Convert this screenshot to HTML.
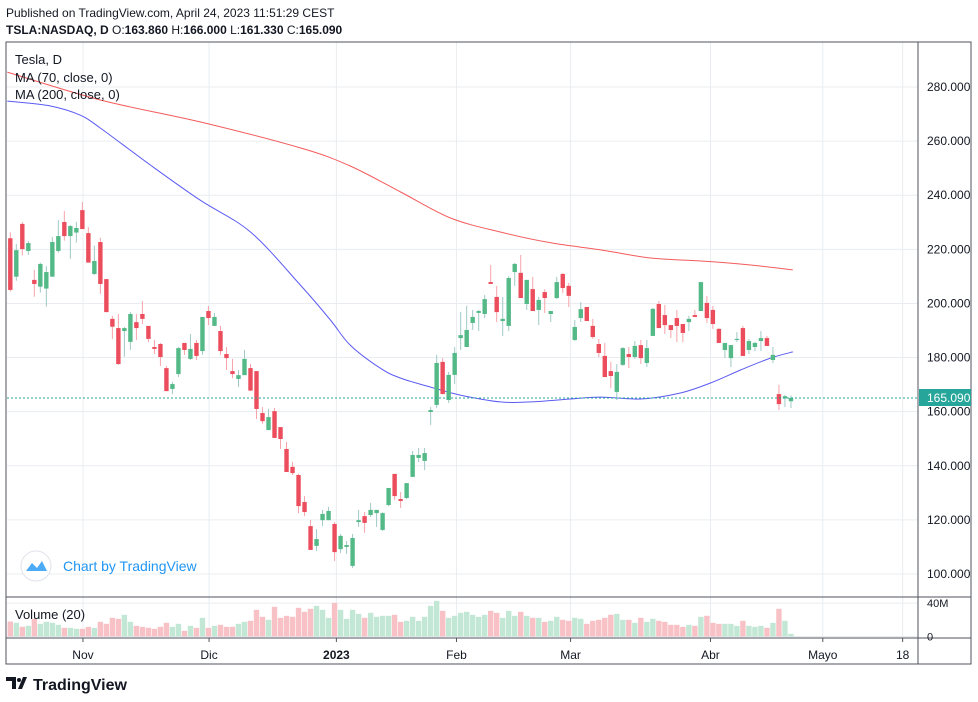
<!DOCTYPE html>
<html><head><meta charset="utf-8"><style>
body{margin:0;background:#fff;font-family:"Liberation Sans",sans-serif}
svg{display:block}
</style></head><body>
<svg id="s" width="978" height="702" xmlns="http://www.w3.org/2000/svg">
<text x="6" y="17" font-size="12" fill="#131722">Published on TradingView.com, April 24, 2023 11:51:29 CEST</text>
<text x="6" y="34" font-size="12" font-weight="bold" fill="#131722">TSLA:NASDAQ, D <tspan font-weight="normal">O:</tspan>163.860 <tspan font-weight="normal">H:</tspan>166.000 <tspan font-weight="normal">L:</tspan>161.330 <tspan font-weight="normal">C:</tspan>165.090</text>
<g id="grid"></g>
<g id="vol"></g>
<g id="ma"></g>
<g id="candles"></g>
<line x1="7" y1="398" x2="918" y2="398" stroke="#26a69a" stroke-width="1" stroke-dasharray="2,2"/>
<rect x="6" y="42" width="965" height="622" fill="none" stroke="#50535e"/>
<line x1="918" y1="42" x2="918" y2="664" stroke="#50535e"/>
<line x1="6" y1="597" x2="971" y2="597" stroke="#50535e"/>
<line x1="6" y1="638" x2="971" y2="638" stroke="#50535e"/>
<g id="axes"></g>
<rect x="919" y="389" width="52" height="17" fill="#26a69a"/>
<text x="927" y="402" font-size="12" fill="#fff">165.090</text>
<text x="15" y="64" font-size="13" fill="#131722">Tesla, D</text>
<text x="15" y="82" font-size="13" fill="#131722">MA (70, close, 0)</text>
<text x="15" y="99" font-size="13" fill="#131722">MA (200, close, 0)</text>
<text x="15" y="619" font-size="13" fill="#131722">Volume (20)</text>
<g>
<circle cx="36" cy="566" r="15" fill="#fff" stroke="#e0e3eb"/>
<path d="M26 571 L32 563 L37 568 L42 561 L47 571 Z" fill="#2196f3" opacity="0.8"/>
<text x="63" y="571" font-size="14" fill="#2196f3">Chart by TradingView</text>
</g>
<g>
<path d="M6 677 h10 v12 h-4 v-8 h-6 Z M18 689 l5 -12 h4 l-5 12 Z" fill="#131722"/>
<circle cx="19" cy="680" r="2" fill="#131722"/>
<text x="33" y="690" font-size="16" font-weight="bold" fill="#131722">TradingView</text>
</g>
</svg>
<script>
const openV=[224.1,209.9,229.4,219.4,208.7,206.2,205.5,209.9,219.4,230.1,224.9,226.2,234.5,226.0,210.9,222.7,209.0,194.3,190.9,189.8,185.8,193.1,196.1,191.7,183.9,185.0,176.1,168.4,173.9,185.4,179.5,185.4,182.4,197.2,191.7,189.8,181.3,175.0,172.1,173.5,176.1,175.0,159.5,153.2,160.2,154.3,146.2,139.6,136.6,126.6,117.7,110.4,119.9,119.9,118.5,109.2,110.0,103.0,119.2,121.4,121.8,122.5,116.3,125.5,137.0,127.7,128.1,135.9,142.9,141.8,159.9,162.5,178.4,164.3,173.6,187.2,183.9,192.8,196.5,196.1,207.9,202.4,193.5,191.7,211.6,211.3,199.8,205.3,197.6,204.2,196.1,202.0,210.9,206.5,186.5,194.6,198.7,191.7,185.0,180.6,175.0,167.3,177.3,181.3,180.2,184.6,178.0,188.0,199.8,195.7,192.0,194.6,192.4,193.1,195.7,197.2,200.2,197.6,190.6,182.8,179.8,186.5,190.9,182.8,183.9,186.1,187.2,179.1,166.5,164.9,163.86];
const highV=[226.3,222.0,230.1,223.1,212.4,215.1,213.8,224.6,230.8,234.2,229.0,230.1,237.5,228.2,221.4,224.3,209.0,195.4,196.1,191.3,196.8,196.1,200.9,191.7,186.5,185.4,176.9,171.0,183.9,185.4,188.7,186.5,195.0,199.1,196.5,191.7,183.9,179.5,175.4,182.8,177.6,175.0,161.7,161.0,161.4,154.3,148.8,141.4,137.0,128.8,120.0,116.6,123.7,124.8,119.2,114.8,112.2,114.8,123.7,122.9,126.3,123.7,122.9,131.8,137.0,130.3,133.6,145.5,146.6,146.6,161.7,181.0,179.8,174.7,183.9,196.9,199.1,197.6,197.6,203.1,214.2,206.5,202.4,210.1,215.0,217.9,208.7,209.8,202.4,205.3,197.2,209.8,211.3,207.6,193.9,200.5,198.7,194.3,186.9,185.4,178.4,177.6,183.9,183.9,186.1,186.5,186.5,198.3,200.9,199.4,192.0,197.6,192.4,195.4,197.6,207.9,202.8,199.1,190.9,185.4,184.6,189.4,191.7,186.9,185.8,189.8,188.0,183.9,169.9,166.2,166.0];
const lowV=[204.4,208.4,217.7,217.9,202.5,204.0,198.8,209.9,218.8,223.2,216.5,222.5,227.5,215.1,210.5,203.5,196.8,186.9,177.3,180.3,182.8,186.5,192.4,185.7,181.3,176.9,167.6,166.5,172.8,181.0,179.1,179.1,181.0,192.0,191.7,181.0,175.4,172.4,169.1,173.5,167.6,157.3,155.6,153.2,150.3,146.2,137.7,136.6,122.5,121.4,108.9,108.5,117.7,119.9,104.8,107.8,107.4,102.2,117.4,115.2,121.1,117.4,115.9,125.1,127.4,124.4,127.7,135.9,141.4,138.4,155.1,161.4,166.5,163.2,170.2,182.8,183.9,190.2,189.8,194.6,207.2,193.1,188.0,189.8,206.5,202.0,197.6,197.2,192.0,196.5,193.1,201.6,203.9,198.7,186.1,193.1,193.5,186.9,180.2,172.8,168.7,164.3,176.9,176.1,179.5,177.6,176.5,188.0,190.9,188.7,187.2,185.7,185.7,189.8,195.0,197.2,192.8,190.6,185.4,179.8,176.5,185.8,180.6,181.3,182.4,182.4,184.3,178.0,160.6,161.7,161.33];
const closeV=[205.0,219.7,220.1,222.3,207.2,214.6,211.6,222.7,224.9,224.9,228.6,227.9,227.5,215.1,215.7,207.2,196.8,191.4,177.6,190.9,196.1,190.9,194.3,186.9,183.2,180.2,167.6,170.2,183.5,182.8,183.2,180.6,195.0,194.6,195.0,182.4,179.8,173.9,173.5,179.5,167.8,161.0,156.5,158.0,150.3,149.9,137.7,137.3,125.1,122.9,108.9,112.9,122.2,123.3,108.1,114.1,110.7,113.3,119.9,118.9,123.7,123.7,122.5,131.8,128.8,127.0,133.6,144.0,144.0,144.7,160.6,178.0,166.5,173.6,181.7,188.3,190.2,195.0,197.2,201.6,207.2,196.8,194.3,209.4,214.6,202.0,208.7,197.2,201.3,202.0,197.2,207.9,205.7,202.8,191.3,197.9,193.5,187.6,181.7,172.8,173.2,174.7,183.5,180.2,184.3,179.8,183.5,198.0,190.9,192.0,190.2,191.7,189.1,194.3,195.0,207.9,194.6,192.4,185.4,185.4,184.6,186.9,180.6,186.1,185.4,187.2,184.3,181.0,162.8,165.7,165.09];
const volumeM=[18,16.4,11.6,12.8,21.2,15.2,17.6,16.4,14,10.4,10.4,9.2,9.2,11.6,10.4,17.6,15.2,22.4,21.2,26,17.6,12.8,11.6,10.4,9.2,11.6,16.4,11.6,15.2,6.8,12.8,10.4,22.4,10.4,12.8,14,11.6,11.6,15.2,17.6,18.8,32,23.6,20,35.6,22.4,24.8,23.6,34.4,29.6,33.2,36.8,32,22.4,40.4,32,21.2,32,27.2,22.4,28.4,23.6,24.8,24.8,26,17.6,18.8,23.6,18.8,23.6,36.8,42.8,30.8,22.4,24.8,28.4,29.6,26,23.6,26,30.8,28.4,22.4,30.8,24.8,29.6,24.8,22.4,22.4,17.6,18.8,23.6,20,18.8,22.4,21.2,15.2,18.8,20,22.4,26,27.2,20,20,16.4,22.4,17.6,21.2,18.8,17.6,14,14,11.6,14,12.8,23.6,24.8,16.4,15.2,15.2,15.2,12.8,18.8,12.8,11.6,12.8,10.4,16.4,33.2,18.8,3.2];
const ma70Idx=[-0.5,15,31.6,48.3,56.6,65,73.3,81.6,90,98.3,106.6,115,123.3,130.3];
const ma70Val=[285.5,275.2,267.1,257.5,250.8,241.2,231.6,226.4,222.4,219.8,216.8,215.7,214.2,212.4];
const ma200Idx=[-0.5,6.6,11.6,15,23.3,31.6,40,48.3,53.3,56.6,61.6,65,70,75,81.6,86.6,93.3,98.3,105,111.6,116.6,121.6,126.6,130.3];
const ma200Val=[274.8,273.0,269.6,264.8,251.2,238.2,226.4,206.8,193.9,184.6,176.1,172.4,169.1,166.1,163.6,163.6,164.7,165.4,164.7,166.9,170.6,175.4,179.8,182.1];
const priceTicks=[100,120,140,160,180,200,220,240,260,280];
const timeLabels=["Nov","Dic","2023","Feb","Mar","Abr","Mayo","18"];
const timeIdx=[12.1,33.1,54.3,74.3,93.3,116.6,135.3,148.6];
const volTicks=[0,40];
const volTickLabels=["0","40M"];

const NS="http://www.w3.org/2000/svg";
const xS=i=>10.3+i*6.005;
const yS=p=>87+(280-p)*2.7056;
const vS=v=>636.5-v*0.8333;
function mk(tag,attrs,parent){const e=document.createElementNS(NS,tag);for(const k in attrs)e.setAttribute(k,attrs[k]);document.getElementById(parent).appendChild(e);return e;}

priceTicks.forEach((p,k)=>{
  const g=mk('line',{x1:7,x2:918,y1:yS(p),y2:yS(p),stroke:'#e9edf1'},'grid');
  
  
  const t=mk('text',{x:927,y:yS(p)+4,'font-size':12,fill:'#131722'},'axes');
  t.textContent=p.toFixed(3);
  
  
});
timeLabels.forEach((lab,k)=>{
  const x=xS(timeIdx[k]);
  const g=mk('line',{x1:x,x2:x,y1:42,y2:638,stroke:'#e9edf1'},'grid');
  
  
  const tk=mk('line',{x1:x,x2:x,y1:638,y2:642,stroke:'#50535e'},'axes');
  
  
  const t=mk('text',{x:x,y:659,'font-size':12,fill:'#131722','text-anchor':'middle','font-weight':lab==='2023'?'bold':'normal'},'axes');
  t.textContent=lab;
  
  
});
volTicks.forEach((v,k)=>{
  const g=mk('line',{x1:7,x2:918,y1:vS(v),y2:vS(v),stroke:'#e9edf1'},'grid');
  
  
  const t=mk('text',{x:927,y:vS(v)+4,'font-size':11,fill:'#131722'},'axes');
  t.textContent=volTickLabels[k];
  
  
});
volumeM.forEach((v,i)=>{
  const up=closeV[i]>=openV[i];
  const r=mk('rect',{x:xS(i)-2.7,y:vS(v),width:5.4,height:vS(0)-vS(v),fill:up?'#c3e7d5':'#f8c1c5'},'vol');
  
  
});
function maPath(idx,val,color,name){
  const P=idx.map((ix,k)=>[xS(ix),yS(val[k])]);
  let d='M'+P[0][0].toFixed(1)+' '+P[0][1].toFixed(1);
  for(let k=0;k<P.length-1;k++){
    const p0=P[Math.max(0,k-1)],p1=P[k],p2=P[k+1],p3=P[Math.min(P.length-1,k+2)];
    const c1=[p1[0]+(p2[0]-p0[0])/6,p1[1]+(p2[1]-p0[1])/6];
    const c2=[p2[0]-(p3[0]-p1[0])/6,p2[1]-(p3[1]-p1[1])/6];
    d+=' C'+c1[0].toFixed(1)+' '+c1[1].toFixed(1)+' '+c2[0].toFixed(1)+' '+c2[1].toFixed(1)+' '+p2[0].toFixed(1)+' '+p2[1].toFixed(1);
  }
  const p=mk('path',{d:d,fill:'none',stroke:color,'stroke-width':1,'stroke-linejoin':'round'},'ma');
  
  
}
maPath(ma70Idx,ma70Val,'#f45b5b','ma-red-line');
maPath(ma200Idx,ma200Val,'#5b5bf4','ma-blue-line');
openV.forEach((o,i)=>{
  const c=closeV[i],up=c>=o,x=xS(i);
  const w=mk('line',{x1:x,x2:x,y1:yS(highV[i]),y2:yS(lowV[i]),stroke:up?'#9fc9c6':'#f7a3ab','stroke-width':1},'candles');
  
  
  const top=yS(Math.max(o,c)),bot=yS(Math.min(o,c));
  const b=mk('rect',{x:x-2.2,y:top,width:4.4,height:Math.max(1,bot-top),fill:up?'#53b987':'#eb4d5c'},'candles');
  
  
});
</script>
</body></html>
